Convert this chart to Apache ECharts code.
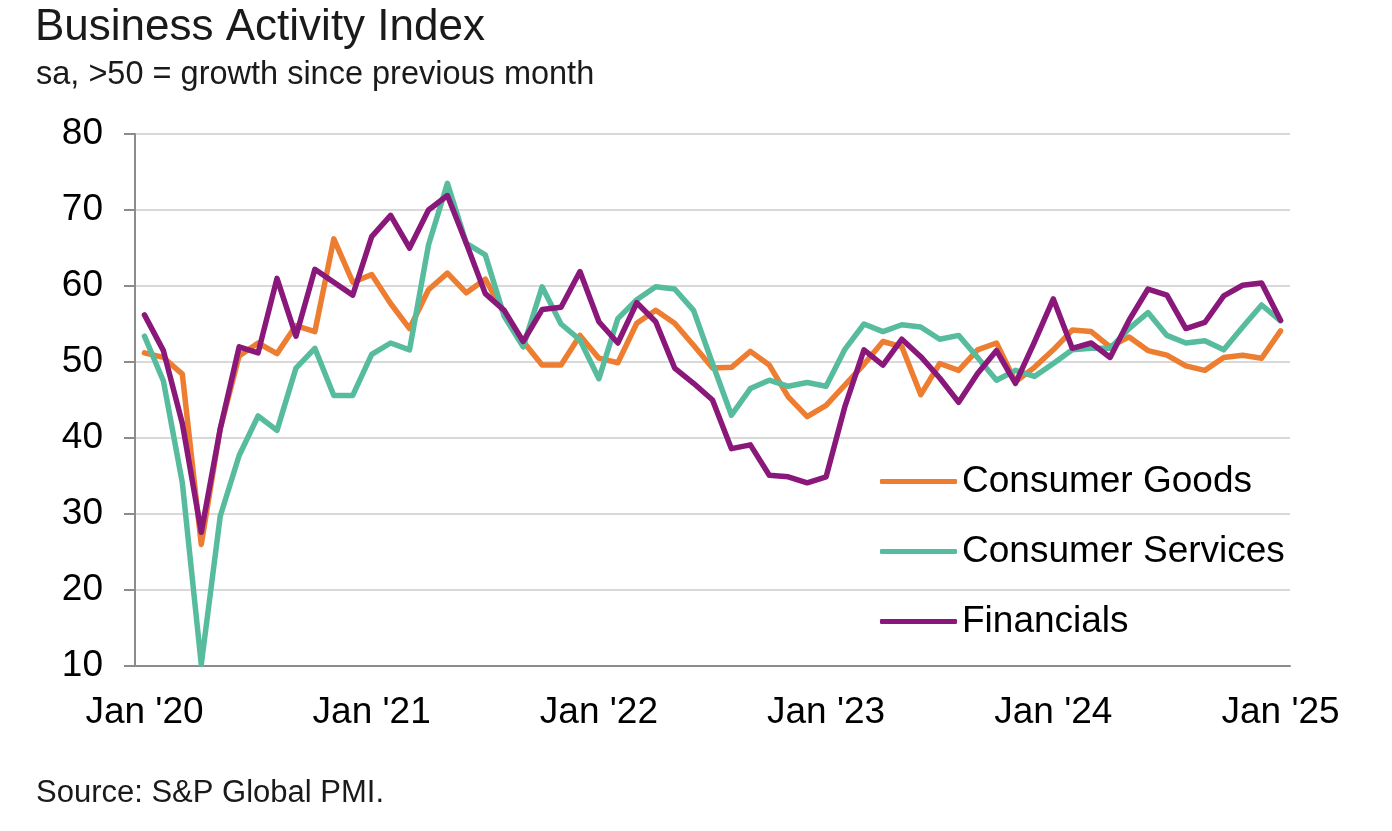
<!DOCTYPE html>
<html>
<head>
<meta charset="utf-8">
<script src="https://cdn.jsdelivr.net/npm/echarts@6/dist/echarts.min.js"></script>
<style>
  html, body { margin: 0; padding: 0; background: #ffffff; }
  #chart { width: 1392px; height: 831px; }
</style>
</head>
<body>
<div id="chart"></div>
<script>
// ---- data (monthly, Jan 2020 .. Jan 2025) ----
const yearLabels = ["Jan '20", "Jan '21", "Jan '22", "Jan '23", "Jan '24", "Jan '25"];
const seriesNames = ["Consumer Goods", "Consumer Services", "Financials"];

const consumerGoods = [
  51.2, 50.6, 48.4, 26.0, 41.2, 50.8, 52.5, 51.1, 54.8, 54.0, 66.2, 60.5,
  61.5, 57.7, 54.4, 59.5, 61.7, 59.1, 60.9, 56.4, 52.7, 49.6, 49.6, 53.5,
  50.5, 49.9, 55.1, 56.8, 55.1, 52.2, 49.2, 49.3, 51.4, 49.6, 45.4, 42.8,
  44.3, 47.0, 49.7, 52.7, 52.0, 45.7, 49.8, 48.9, 51.6, 52.5, 47.4, 49.3,
  51.6, 54.2, 54.0, 52.0, 53.3, 51.5, 50.9, 49.5, 48.9, 50.6, 50.9, 50.5,
  54.1
];
const consumerServices = [
  53.4, 47.5, 34.1, 10.2, 29.7, 37.7, 42.9, 41.0, 49.2, 51.8, 45.6, 45.6,
  51.0, 52.5, 51.6, 65.4, 73.5, 65.6, 64.1, 56.0, 52.0, 59.9, 55.0, 52.9,
  47.8, 55.7, 58.2, 59.9, 59.6, 56.8, 49.8, 43.0, 46.5, 47.6, 46.8, 47.3,
  46.8, 51.7, 55.0, 54.0, 54.9, 54.6, 53.0, 53.5, 50.6, 47.6, 48.9, 48.1,
  49.8, 51.6, 51.8, 51.8, 54.4, 56.5, 53.5, 52.5, 52.8, 51.6, 54.6, 57.5,
  55.4
];
const financials = [
  56.2, 51.5, 41.9, 27.6, 41.2, 52.0, 51.2, 61.0, 53.4, 62.2, 60.5, 58.8,
  66.5, 69.3, 65.0, 70.0, 71.9, 65.6, 59.0, 56.8, 52.7, 56.9, 57.2, 61.9,
  55.3, 52.5, 57.8, 55.3, 49.2, 47.2, 45.0, 38.6, 39.1, 35.1, 34.9, 34.1,
  34.9, 44.2, 51.6, 49.6, 53.0, 50.7, 47.9, 44.7, 48.5, 51.5, 47.2, 52.6,
  58.3, 51.8, 52.5, 50.6, 55.5, 59.6, 58.8, 54.4, 55.2, 58.7, 60.1, 60.4,
  55.5
];

// category labels: one per month, year label on each January
const months = consumerGoods.map((_, i) => (i % 12 === 0 ? yearLabels[i / 12] : ""));

const colors = ["#ED7D31", "#57BC9D", "#8A187B"];
const FONT = "'Liberation Sans', Arial, sans-serif";
const TXT = "#1a1a1a";

const chart = echarts.init(document.getElementById('chart'), null, { renderer: 'canvas' });

const seriesData = [consumerGoods, consumerServices, financials];

chart.setOption({
  animation: false,
  backgroundColor: '#ffffff',
  color: colors,
  title: [
    { text: 'Business Activity Index', left: 30, top: 1,
      textStyle: { fontFamily: FONT, fontSize: 44, fontWeight: 'normal', color: TXT } },
    { text: 'sa, >50 = growth since previous month', left: 31, top: 54,
      textStyle: { fontFamily: FONT, fontSize: 32.5, fontWeight: 'normal', color: TXT } },
    { text: 'Source: S&P Global PMI.', left: 31, top: 773,
      textStyle: { fontFamily: FONT, fontSize: 31, fontWeight: 'normal', color: TXT } }
  ],
  legend: {
    orient: 'vertical',
    left: 880,
    top: 463,
    padding: 0,
    itemGap: 33,
    itemWidth: 77,
    itemHeight: 5,
    icon: 'roundRect',
    data: seriesNames,
    textStyle: { fontFamily: FONT, fontSize: 37, color: '#000' }
  },
  grid: { left: 135, right: 102, top: 134, bottom: 165 },
  xAxis: {
    type: 'category',
    data: months,
    boundaryGap: true,
    axisLine: { lineStyle: { color: '#8c8c8c', width: 2 } },
    axisTick: {
      length: 9,
      interval: (idx) => idx % 12 === 0,
      lineStyle: { color: '#8c8c8c', width: 2 }
    },
    axisLabel: {
      interval: (idx) => idx % 12 === 0,
      margin: 28,
      fontFamily: FONT, fontSize: 37, color: '#000'
    },
    splitLine: { show: false }
  },
  yAxis: {
    type: 'value',
    min: 10, max: 80, interval: 10,
    axisLine: { show: true, lineStyle: { color: '#8c8c8c', width: 2 } },
    axisTick: { show: true, length: 11, lineStyle: { color: '#8c8c8c', width: 2 } },
    axisLabel: { margin: 32, fontFamily: FONT, fontSize: 37, color: '#000' },
    splitLine: { lineStyle: { color: '#d9d9d9', width: 2 } }
  },
  series: seriesNames.map((name, k) => ({
    name: name,
    type: 'line',
    data: seriesData[k],
    showSymbol: false,
    symbol: 'none',
    lineStyle: { width: 5.5, cap: 'round', join: 'round', color: colors[k] },
    itemStyle: { color: colors[k] },
    z: 2 + k
  }))
});
</script>
</body>
</html>
